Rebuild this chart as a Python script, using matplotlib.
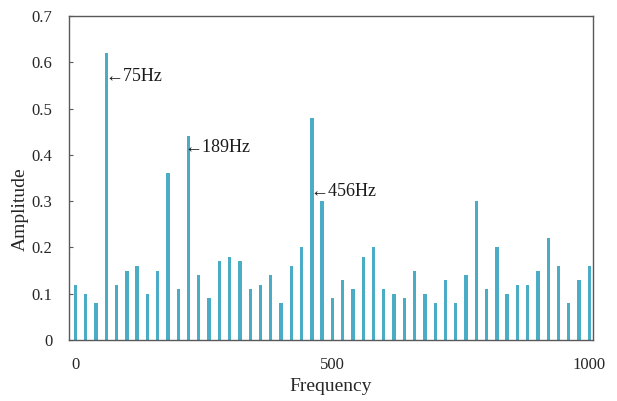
import matplotlib
matplotlib.use("Agg")
import matplotlib.pyplot as plt
import numpy as np

plt.rcParams['font.family'] = ['Liberation Serif', 'DejaVu Serif']

frequencies = list(range(0, 1001, 20))
amplitudes = [0.12, 0.10, 0.08, 0.62, 0.12, 0.15, 0.16, 0.10, 0.15, 0.36,
              0.11, 0.44, 0.14, 0.09, 0.17, 0.18, 0.17, 0.11, 0.12, 0.14,
              0.08, 0.16, 0.20, 0.48, 0.30, 0.09, 0.13, 0.11, 0.18, 0.20,
              0.11, 0.10, 0.09, 0.15, 0.10, 0.08, 0.13, 0.08, 0.14, 0.30,
              0.11, 0.20, 0.10, 0.12, 0.12, 0.15, 0.22, 0.16, 0.08, 0.13,
              0.16]
annot_texts = ["\u219075Hz", "\u2190189Hz", "\u2190456Hz"]
annot_x = [59, 212, 458]
annot_y = [0.569, 0.416, 0.32]

fig = plt.figure(figsize=(6.17, 4.01), dpi=100)
ax = fig.add_axes([0.1123, 0.152, 0.961 - 0.1123, 0.960 - 0.152])

ax.bar(frequencies, amplitudes, width=6.5, color='#4BACC6', align='center')

for t, x, y in zip(annot_texts, annot_x, annot_y):
    ax.text(x, y, t, fontsize=13, color='#1a1a1a', va='center', ha='left')

ax.set_xlim(-12, 1007)
ax.set_ylim(0, 0.7)
ax.set_xticks([0, 500, 1000])
ax.set_yticks(np.arange(0, 0.71, 0.1))
ax.set_yticklabels(['0', '0.1', '0.2', '0.3', '0.4', '0.5', '0.6', '0.7'])

for s in ax.spines.values():
    s.set_color('#595959')
    s.set_linewidth(1.0)

ax.tick_params(axis='y', direction='in', length=3, width=0.8, color='#595959',
               labelsize=12, labelcolor='#262626', pad=12)
ax.tick_params(axis='x', length=0, labelsize=12, labelcolor='#262626', pad=12)

ax.set_xlabel('Frequency', fontsize=14, color='#262626', labelpad=4)
ax.set_ylabel('Amplitude', fontsize=14, color='#262626')
ax.yaxis.set_label_coords(-0.077, 0.404)

fig.savefig('out.png', dpi=100)
